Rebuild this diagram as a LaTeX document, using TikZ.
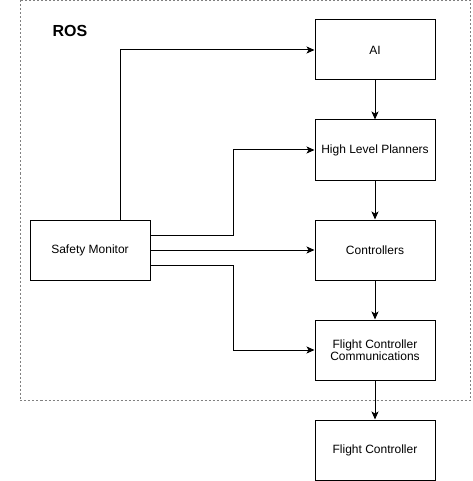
\documentclass[tikz,border=0pt]{standalone}
\usepackage{fontspec}
\setmainfont{Liberation Sans}
\usetikzlibrary{arrows.meta}
\begin{document}
\begin{tikzpicture}[x=1pt,y=-1pt,
	line width=1pt,
	block/.style={draw,minimum width=120pt,minimum height=60pt,align=center,font=\fontsize{12}{14}\selectfont},
	arr/.style={-{Stealth[length=8pt,width=7pt,inset=2pt]}}
]
\useasboundingbox (0,0) rectangle (472,481);

%ROS Box
\draw[gray,dash pattern=on 2pt off 2pt] (20,0.5) rectangle (470,400);
\node [font=\fontsize{16}{18}\selectfont\bfseries]  (rostext)at (70,31) {ROS};

%Stack
\node [block]  (ai)at (375,50) {AI};
\node [block]  (hlp)at (375,150) {High Level Planners};
\node [block]  (ctrl)at (375,250) {Controllers};
\node [block]  (fcc)at (375,350) {Flight Controller\\[-2pt]Communications};
\node [block]  (fc)at (375,450) {Flight Controller};

%Safety Monitor
\node [block]  (sm)at (90,250) {Safety Monitor};

\draw[arr] (ai.south) -- (hlp.north);
\draw[arr] (hlp.south) -- (ctrl.north);
\draw[arr] (ctrl.south) -- (fcc.north);
\draw[arr] (fcc.south) -- (fc.north);


%Safety Monitor Outputs
\draw[arr] ([xshift=30pt]sm.north) |- (ai.west);
\draw[arr] ([yshift=15pt]sm.east) -- ++(83,0) |- (hlp.west);
\draw[arr] (sm.east) -- (ctrl.west);
\draw[arr] ([yshift=-15pt]sm.east) -- ++(83,0) |- (fcc.west);

\end{tikzpicture}
\end{document}
